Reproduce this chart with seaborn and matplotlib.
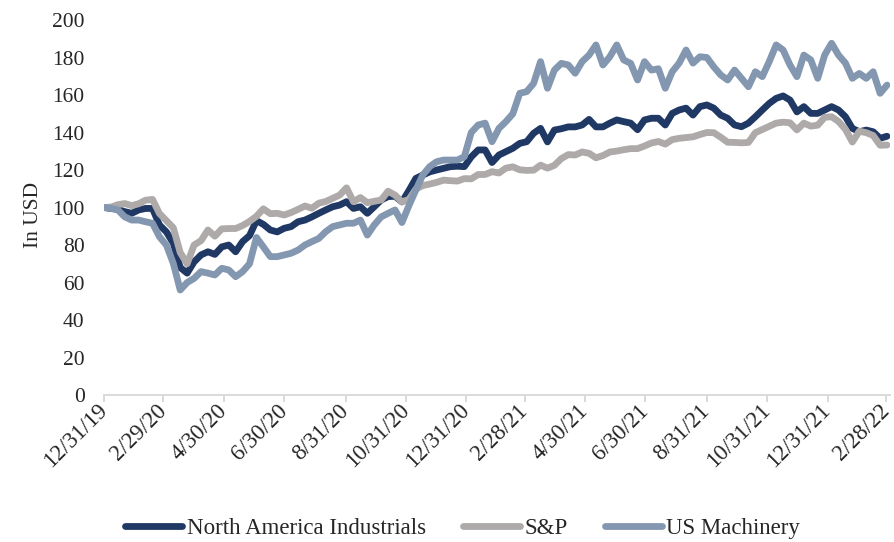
import matplotlib
matplotlib.use("Agg")
import matplotlib.pyplot as plt
from matplotlib.lines import Line2D
import pandas as pd
import seaborn as sns

# Weekly index levels, rebased to 100 on 12/31/19
dates = pd.date_range("2019-12-31", periods=114, freq="7D")

na_industrials = [
    100, 99.5, 99, 97.8, 96.9, 98.7, 99.5, 99.5, 90.7, 87,
    81, 68, 65, 71, 74.7, 76.4, 75, 79, 80, 76.4,
    81.8, 85, 93, 91, 88, 87, 88.9, 89.8, 92.4, 93.3,
    95, 96.9, 98.7, 100.4, 101.3, 103.1, 99.5, 100.4, 96.9, 100.4,
    104, 105.8, 106, 103, 109, 115.5, 117.3, 119, 120, 120.9,
    121.8, 122, 121.8, 127, 130.7, 130.7, 124, 128, 129.8, 131.6,
    134.2, 135.1, 139.6, 142.2, 135, 141.3, 142, 143, 143, 144,
    147, 143, 143, 145, 146.7, 145.8, 145, 141.5, 146.7, 147.6,
    147.6, 144, 150.2, 152, 153, 149.3, 153.8, 154.7, 153, 149.3,
    147.6, 144, 143.1, 145, 148.4, 152, 155.5, 158.2, 159.5, 157.3,
    151, 153.8, 150.2, 150.2, 152, 153.8, 152, 148.4, 142.2, 140.4,
    141.3, 140.4, 136.9, 138,
]

sp500 = [
    100, 100.2, 101.5, 102.1, 101, 102, 103.9, 104.3, 96.8, 93,
    89.2, 76, 70, 80, 82.3, 88, 84.7, 88.6, 88.8, 88.8,
    90.4, 92.6, 95.3, 99.3, 96.7, 96.9, 96, 97.3, 99, 100.8,
    99.6, 102.3, 103.2, 104.9, 106.6, 110.5, 103.1, 105.3, 102.6, 103.3,
    104, 108.7, 106.6, 103, 104.3, 109.8, 111.7, 112.5, 113.4, 114.6,
    114.3, 114.1, 115.4, 115.3, 117.6, 117.6, 119.1, 118.4, 121, 121.7,
    120.1, 119.8, 119.9, 122.6, 121, 122.5, 126.1, 128.2, 128, 129.6,
    128.9, 126.5, 127.7, 129.6, 130.1, 130.8, 131.4, 131.4, 132.8, 134.4,
    135.2, 133.8, 136.2, 136.9, 137.3, 137.7, 138.9, 140, 139.9, 137.5,
    134.8, 134.7, 134.5, 134.7, 139.9, 141.6, 143.3, 145, 145.5, 145.2,
    141.4, 145, 143.4, 143.9, 148.1, 148.4, 145.9, 141.7, 134.9, 140.7,
    139.9, 138.4, 133.2, 133.3,
]

us_machinery = [
    100, 99.6, 98.7, 95, 93.3, 93.3, 92.4, 91.6, 84.4, 80,
    70.2, 56, 60, 62.2, 65.8, 65, 64, 67.6, 66.7, 63.1,
    65.8, 70, 84, 79, 73.8, 73.8, 74.7, 75.6, 77.3, 80,
    81.8, 83.5, 87.1, 89.8, 90.7, 91.6, 91.6, 93.3, 85.3, 90.7,
    95, 96.9, 98.7, 92, 101, 109.3, 117.3, 121.8, 124.4, 125.3,
    125.3, 125.3, 127.1, 140, 144, 145, 135.1, 142.2, 145.8, 150,
    160.9, 161.8, 166.2, 177.8, 163.6, 173.3, 176.9, 176, 171.6, 177.8,
    181.3, 186.7, 176, 180.4, 186.7, 178.7, 176.9, 168, 177.8, 173.3,
    174, 163.6, 172.4, 177, 184, 177, 180.4, 180, 175, 170.7,
    168, 173.3, 168.9, 164.4, 172.4, 169.8, 177.8, 186.7, 184, 176,
    169.8, 181.3, 178.7, 168.9, 181.3, 187.6, 181.3, 177, 168.9, 171.5,
    168.9, 172.4, 160.9, 165.3,
]

series_names = ["North America Industrials", "S&P", "US Machinery"]
series_colors = ["#203864", "#AEAAAA", "#8497B0"]

tick_dates = pd.to_datetime([
    "2019-12-31", "2020-02-29", "2020-04-30", "2020-06-30", "2020-08-31",
    "2020-10-31", "2020-12-31", "2021-02-28", "2021-04-30", "2021-06-30",
    "2021-08-31", "2021-10-31", "2021-12-31", "2022-02-28",
])
tick_labels = [
    "12/31/19", "2/29/20", "4/30/20", "6/30/20", "8/31/20", "10/31/20",
    "12/31/20", "2/28/21", "4/30/21", "6/30/21", "8/31/21", "10/31/21",
    "12/31/21", "2/28/22",
]
y_ticks = list(range(0, 201, 20))

wide = pd.DataFrame({
    "date": dates,
    series_names[0]: na_industrials,
    series_names[1]: sp500,
    series_names[2]: us_machinery,
})
long = wide.melt(id_vars="date", var_name="series", value_name="value")

sns.set_theme(style="white")
plt.rcParams["font.family"] = ["Liberation Serif", "DejaVu Serif"]
text_color = "#262626"
line_width = 4.9

fig = plt.figure(figsize=(8.95, 5.42), dpi=100)
ax = fig.add_axes([0.1162, 0.2712, 0.8782, 0.6919])

sns.lineplot(
    data=long, x="date", y="value", hue="series",
    hue_order=series_names, palette=series_colors,
    linewidth=line_width, legend=False, ax=ax,
    solid_joinstyle="round", solid_capstyle="round",
)

ax.set_xlim(pd.Timestamp("2019-12-31"), pd.Timestamp("2022-03-04"))
ax.set_ylim(0, 200)
ax.set_yticks(y_ticks)
ax.set_xticks(tick_dates)
ax.set_xticklabels(tick_labels)
ax.set_xlabel("")
ax.set_ylabel("In USD", fontsize=15.5, color=text_color)
ax.yaxis.set_label_coords(-0.078, 0.48)

for side in ("top", "right", "left"):
    ax.spines[side].set_visible(False)
ax.spines["bottom"].set_color("#D9D9D9")
ax.spines["bottom"].set_linewidth(1.4)

ax.tick_params(axis="y", length=0, pad=14, labelsize=15.5, labelcolor=text_color)
ax.tick_params(axis="x", direction="out", length=5, width=1.4, color="#D9D9D9",
               pad=4, labelsize=16.5, labelcolor=text_color, bottom=True)
plt.setp(ax.get_xticklabels(), rotation=45, ha="right", va="center",
         rotation_mode="anchor")

handles = [Line2D([0], [0], color=c, linewidth=line_width, solid_capstyle="round")
           for c in series_colors]
fig.legend(handles, series_names, loc="center", bbox_to_anchor=(0.517, 0.025),
           ncol=3, frameon=False, handlelength=2.5, handletextpad=0.2,
           columnspacing=1.6, fontsize=16.5, labelcolor=text_color)

fig.savefig("out.png", dpi=100)
